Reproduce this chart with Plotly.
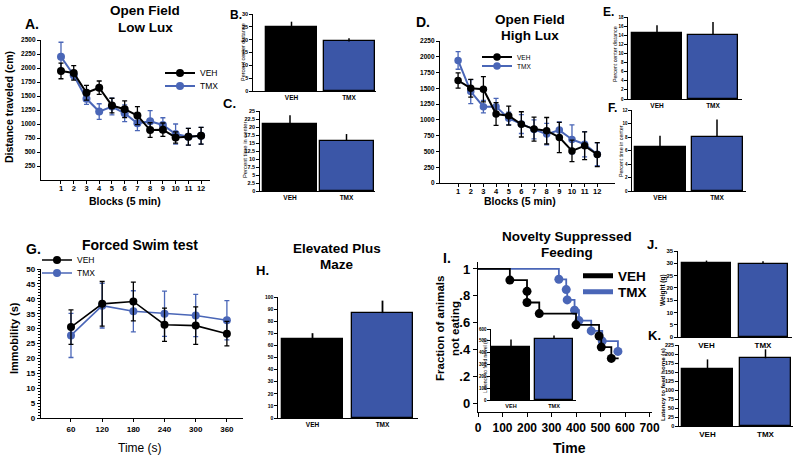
import plotly.graph_objects as go

W, H = 800, 459
FONT = "Liberation Sans, Arial, Helvetica, sans-serif"
BLACK = "#000000"
BLUE_BAR = "#3b56a7"
BLUE_LINE = "#4a66b7"

# ---------------- Data ----------------
groups = ["VEH", "TMX"]

blocks = [1, 2, 3, 4, 5, 6, 7, 8, 9, 10, 11, 12]
lowlux_veh = [1948, 1912, 1558, 1648, 1330, 1264, 1150, 892, 898, 760, 772, 790]
lowlux_veh_err = [140, 130, 130, 120, 130, 150, 160, 130, 120, 100, 150, 150]
lowlux_tmx = [2200, 1870, 1450, 1222, 1312, 1192, 1012, 1048, 982, 820, 772, 790]
lowlux_tmx_err = [260, 70, 100, 140, 150, 150, 130, 190, 130, 180, 150, 150]

highlux_veh = [1624, 1502, 1486, 1093, 1067, 929, 854, 828, 722, 509, 589, 451]
highlux_veh_err = [120, 140, 200, 180, 150, 200, 190, 210, 240, 170, 220, 190]
highlux_tmx = [1942, 1449, 1210, 1210, 1024, 934, 849, 775, 838, 690, 615, 456]
highlux_tmx_err = [140, 190, 100, 130, 100, 150, 150, 170, 130, 230, 200, 180]

center_dist_low = [24.8, 19.3]
center_dist_low_err = [2.2, 1.3]
center_time_low = [20.8, 15.7]
center_time_low_err = [2.9, 2.1]
center_dist_high = [14.4, 14.1]
center_dist_high_err = [1.8, 2.8]
center_time_high = [6.45, 8.0]
center_time_high_err = [1.75, 2.6]

fst_time = [60, 120, 180, 240, 300, 360]
fst_veh = [30.5, 38.3, 39.1, 31.3, 31.0, 28.3]
fst_veh_err = [5.8, 7.5, 6.5, 5.6, 6.3, 4.1]
fst_tmx = [27.7, 37.7, 35.8, 35.0, 34.4, 32.8]
fst_tmx_err = [7.4, 7.5, 6.9, 7.6, 7.1, 6.6]

epm_open_time = [65.4, 86.7]
epm_open_time_err = [4.7, 10.3]

nsf_veh_times = [130, 200, 200, 250, 400, 494, 503, 544]
nsf_veh_surv = [0.917, 0.833, 0.750, 0.667, 0.583, 0.500, 0.417, 0.333]
nsf_veh_end = 574
nsf_tmx_times = [330, 360, 364, 394, 412, 462, 507, 571]
nsf_tmx_surv = [0.923, 0.846, 0.769, 0.692, 0.615, 0.538, 0.462, 0.385]
nsf_tmx_end = 580

latency_novel = [452, 518]
latency_novel_err = [60, 28]
weight = [30.0, 29.7]
weight_err = [1.1, 1.1]
latency_home = [157, 188]
latency_home_err = [28, 25]

# ---------------- Helpers ----------------
fig = go.Figure()
layout = {}


def sfx(n):
    return "" if n == 1 else str(n)


def xdom(l, r):
    return [l / W, r / W]


def ydom(t, b):
    return [1 - b / H, 1 - t / H]


def tfont(size, bold=True):
    return dict(family=FONT, size=size, color=BLACK, weight="bold" if bold else "normal")


def base_axis(size, bold=True, ticklen=3):
    return dict(showline=True, linecolor=BLACK, linewidth=1.4, ticks="outside",
                ticklen=ticklen, tickwidth=1.2, tickcolor=BLACK, showgrid=False,
                zeroline=False, tickfont=tfont(size, bold), fixedrange=True,
                automargin=False)


def fmt(v):
    s = ("%.1f" % v)
    return s[:-2] if s.endswith(".0") else s


def set_axes(n, xd, yd, xr, yr, xextra, yextra):
    xa = base_axis(7)
    xa.update(domain=xd, range=xr, anchor="y" + sfx(n))
    xa.update(xextra)
    ya = base_axis(7)
    ya.update(domain=yd, range=yr, anchor="x" + sfx(n))
    ya.update(yextra)
    layout["xaxis" + sfx(n)] = xa
    layout["yaxis" + sfx(n)] = ya


def bar_panel(n, vals, errs, L, R, c0, c1, wpx, top, bot, yr, yticks, yfs, xfs, ebw=1.5):
    unit = c1 - c0
    xr = [(L - c0) / unit, (R - c0) / unit]
    fig.add_trace(go.Bar(
        x=groups, y=vals, width=wpx / unit,
        marker=dict(color=[BLACK, BLUE_BAR], line=dict(color=BLACK, width=1.3)),
        error_y=dict(type="data", symmetric=False, array=errs, arrayminus=[0] * len(errs),
                     color=BLACK, thickness=ebw, width=0),
        xaxis="x" + sfx(n), yaxis="y" + sfx(n), showlegend=False, hoverinfo="skip"))
    set_axes(n, xdom(L, R), ydom(top, bot), xr, yr,
             dict(type="category", ticks="", tickfont=tfont(xfs)),
             dict(tickvals=yticks, ticktext=[fmt(v) for v in yticks], tickfont=tfont(yfs),
                  ticklen=2.5))


def line_pair(n, x, veh, veh_err, tmx, tmx_err, msize, lw, leg_v, leg_t):
    for name, y, e, col, lg in (("TMX", tmx, tmx_err, BLUE_LINE, leg_t),
                                ("VEH", veh, veh_err, BLACK, leg_v)):
        fig.add_trace(go.Scatter(
            x=x, y=y, name=name, mode="lines+markers",
            line=dict(color=col, width=lw), marker=dict(color=col, size=msize),
            error_y=dict(type="data", array=e, color=col, thickness=1.3, width=2.5),
            xaxis="x" + sfx(n), yaxis="y" + sfx(n), legend=lg, showlegend=True,
            hoverinfo="skip"))


def legend_box(xpx, ypx, size, bold=False):
    return dict(x=xpx / W, y=1 - ypx / H, xanchor="left", yanchor="middle",
                bgcolor="rgba(0,0,0,0)", borderwidth=0, font=tfont(size, bold),
                itemwidth=30, tracegroupgap=0, itemclick=False, itemdoubleclick=False)


annotations = []


def text(s, xpx, ypx, size, bold=True, angle=0, xanchor="center"):
    annotations.append(dict(text=s, x=xpx / W, y=1 - ypx / H, xref="paper", yref="paper",
                            showarrow=False, xanchor=xanchor, yanchor="middle",
                            textangle=angle, font=tfont(size, bold)))


# ---------------- Panel A ----------------
line_pair(1, blocks, lowlux_veh, lowlux_veh_err, lowlux_tmx, lowlux_tmx_err, 8, 2,
          "legend", "legend2")
a_ticks = [250, 500, 750, 1000, 1250, 1500, 1750, 2000, 2250, 2500]
set_axes(1, xdom(41, 210), ydom(40, 180), [-0.57, 12.7], [0, 2500],
         dict(tickvals=blocks, tickfont=tfont(7.5), ticklabelstandoff=-2),
         dict(tickvals=a_ticks, ticktext=[str(v) for v in a_ticks], tickfont=tfont(6.5)))
layout["legend"] = legend_box(160, 73, 8.5)
layout["legend2"] = legend_box(160, 86, 8.5)

# ---------------- Panel B, C ----------------
bar_panel(2, center_dist_low, center_dist_low_err, 253, 376, 291.5, 349, 51, 14, 91,
          [0, 30], [0, 5, 10, 15, 20, 25, 30], 5.5, 6.5)
bar_panel(3, center_time_low, center_time_low_err, 260, 375, 290, 346.5, 54, 111, 191,
          [0, 25], [0, 2.5, 5, 7.5, 10, 12.5, 15, 17.5, 20, 22.5, 25], 5.5, 6.5)

# ---------------- Panel D ----------------
line_pair(4, blocks, highlux_veh, highlux_veh_err, highlux_tmx, highlux_tmx_err, 7.5, 2,
          "legend3", "legend4")
d_ticks = [0, 250, 500, 750, 1000, 1250, 1500, 1750, 2000, 2250]
set_axes(4, xdom(440, 615), ydom(41, 183), [-0.43, 13.4], [0, 2250],
         dict(tickvals=blocks, tickfont=tfont(7.5), ticklabelstandoff=-2),
         dict(tickvals=d_ticks, ticktext=[str(v) for v in d_ticks], tickfont=tfont(6.5)))
layout["legend3"] = legend_box(477, 57, 6.5)
layout["legend4"] = legend_box(477, 66, 6.5)

# ---------------- Panel E, F ----------------
bar_panel(5, center_dist_high, center_dist_high_err, 628, 742, 657, 713, 50, 17, 99,
          [0, 18], [0, 2, 4, 6, 8, 10, 12, 14, 16, 18], 4.5, 6.5)
bar_panel(6, center_time_high, center_time_high_err, 632, 746, 660, 717, 51, 110, 191,
          [0, 12], [0, 2, 4, 6, 8, 10, 12], 4.5, 6.5)

# ---------------- Panel G ----------------
line_pair(7, fst_time, fst_veh, fst_veh_err, fst_tmx, fst_tmx_err, 8, 1.6,
          "legend5", "legend6")
g_ticks = [0, 5, 10, 15, 20, 25, 30, 35, 40, 45, 50]
set_axes(7, xdom(41, 243), ydom(269, 418), [2.3, 391], [0, 50],
         dict(tickvals=fst_time, tickfont=tfont(8), ticklen=3),
         dict(tickvals=g_ticks, ticktext=[str(v) for v in g_ticks], tickfont=tfont(8),
              minor=dict(dtick=1, ticklen=1.5, tickwidth=1, tickcolor=BLACK, ticks="outside")))
layout["legend5"] = legend_box(37, 260, 8.5)
layout["legend6"] = legend_box(37, 273, 8.5)

# ---------------- Panel H ----------------
bar_panel(8, epm_open_time, epm_open_time_err, 278, 418, 312.5, 382.5, 61, 297, 418,
          [0, 100], [0, 10, 20, 30, 40, 50, 60, 70, 80, 90, 100], 5, 6.5, ebw=1.8)

# ---------------- Panel I (survival) ----------------
for name, t, s, end, col in (("TMX", nsf_tmx_times, nsf_tmx_surv, nsf_tmx_end, BLUE_LINE),
                             ("VEH", nsf_veh_times, nsf_veh_surv, nsf_veh_end, BLACK)):
    fig.add_trace(go.Scatter(x=[0] + t + [end], y=[1] + s + [s[-1]], mode="lines",
                             line=dict(color=col, width=1.8, shape="hv"),
                             xaxis="x9", yaxis="y9", showlegend=False, hoverinfo="skip"))
    fig.add_trace(go.Scatter(x=t, y=s, mode="markers", marker=dict(color=col, size=9),
                             xaxis="x9", yaxis="y9", showlegend=False, hoverinfo="skip"))
for name, col, lg in (("VEH", BLACK, "legend7"), ("TMX", BLUE_LINE, "legend8")):
    fig.add_trace(go.Scatter(x=[None], y=[None], mode="lines", name=name,
                             line=dict(color=col, width=5), xaxis="x9", yaxis="y9",
                             legend=lg, showlegend=True))
i_yt = [0, 0.2, 0.4, 0.6, 0.8, 1]
i_ytext = ["0", ".2", ".4", ".6", ".8", "1"]
i_xt = [0, 100, 200, 300, 400, 500, 600, 700]
set_axes(9, xdom(478, 652), ydom(262, 412), [0, 710], [-0.067, 1.052],
         dict(tickvals=i_xt, ticktext=[str(v) for v in i_xt], tickfont=tfont(12), ticklen=4),
         dict(tickvals=i_yt, ticktext=i_ytext, tickfont=tfont(13), ticklen=4))
layout["legend7"] = legend_box(578, 276, 13.5, True)
layout["legend8"] = legend_box(578, 292, 13.5, True)

# inset
bar_panel(10, latency_novel, latency_novel_err, 491, 576, 511, 554, 38, 329, 400,
          [0, 600], [0, 100, 200, 300, 400, 500, 600], 4.5, 5.5)

# ---------------- Panel J, K ----------------
bar_panel(11, weight, weight_err, 678, 792, 706.5, 763, 49, 251, 337,
          [0, 35], [0, 5, 10, 15, 20, 25, 30, 35], 6, 8)
bar_panel(12, latency_home, latency_home_err, 679, 793, 707.5, 765.5, 51, 345, 426,
          [0, 225], [0, 25, 50, 75, 100, 125, 150, 175, 200, 225], 5.5, 8)

# ---------------- Texts ----------------
text("Open Field", 145, 11, 13.5)
text("Low Lux", 145, 27, 13.5)
text("A.", 32, 24, 14)
text("Distance traveled (cm)", 9, 107, 10.5, angle=-90)
text("Blocks (5 min)", 125, 201, 10.5)
text("B.", 236, 15, 12)
text("Percent center distance", 243, 52, 5.5, bold=False, angle=-90)
text("C.", 230, 103, 13)
text("Percent time in center", 245, 150, 5.8, bold=False, angle=-90)
text("D.", 423, 22, 14)
text("Open Field", 530, 19, 13.5)
text("High Lux", 530, 35, 13.5)
text("Blocks (5 min)", 520, 201, 10.5)
text("E.", 608, 12, 12)
text("Percent center distance", 615, 54, 5.3, bold=False, angle=-90)
text("F.", 612, 108, 12)
text("Percent time in center", 621, 151, 5.3, bold=False, angle=-90)
text("G.", 33, 249, 14)
text("Forced Swim test", 140, 245, 14)
text("Immobility (s)", 14, 338, 11, angle=-90)
text("Time (s)", 140, 448, 12, bold=False)
text("H.", 262, 270, 13)
text("Elevated Plus", 337, 248, 13.5)
text("Maze", 337, 264, 13.5)
text("Novelty Suppressed", 567, 236, 13.5)
text("Feeding", 567, 253, 13.5)
text("I.", 447, 258, 14)
text("Fraction of animals", 440, 329, 11.5, angle=-90)
text("not eating", 455, 329, 11.5, angle=-90)
text("Time", 569, 448, 14)
text("Latency to feed novel (s)", 485, 365, 5, bold=False, angle=-90)
text("J.", 652, 245, 13)
text("Weight (g)", 663, 290, 6.5, angle=-90)
text("K.", 654, 335, 13)
text("Latency to feed home (s)", 662, 385, 6.2, angle=-90)

layout.update(width=W, height=H,
              margin=dict(l=0, r=0, t=0, b=0, pad=0, autoexpand=False),
              paper_bgcolor="white", plot_bgcolor="white", annotations=annotations,
              font=dict(family=FONT, color=BLACK), bargap=0)
fig.update_layout(**layout)
fig.write_html("out.html", config={"displayModeBar": False},
               post_script="document.body.style.margin='0px';document.body.style.overflow='hidden';")
